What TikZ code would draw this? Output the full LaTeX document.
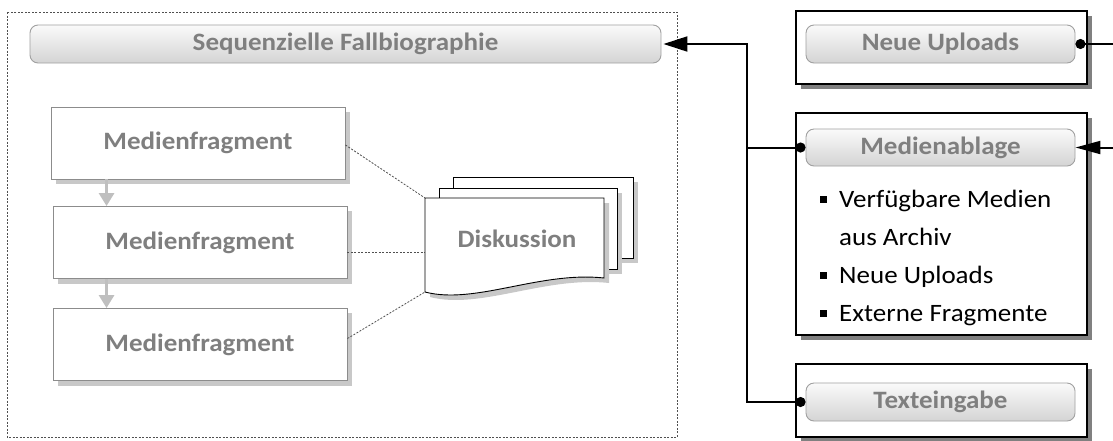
\documentclass[tikz,border=0pt]{standalone}
\usepackage{fontspec}
\setmainfont{Carlito}[FakeStretch=1.08]
\usetikzlibrary{arrows.meta,calc}
\definecolor{txtgray}{HTML}{7F7F7F}
\definecolor{pillborder}{HTML}{A0A0A0}
\definecolor{pilltop}{HTML}{FAFAFA}
\definecolor{pillbot}{HTML}{D4D4D4}
\definecolor{mfborder}{HTML}{8C8C8C}
\definecolor{mfshadow}{HTML}{C8C8C8}
\definecolor{outshadow}{HTML}{808080}
\definecolor{flowgray}{HTML}{BFBFBF}
\definecolor{dashcol}{HTML}{505050}
\tikzset{
  lbl/.style={font=\bfseries\fontsize{25}{30}\selectfont, text=txtgray},
  pill/.style={lbl, draw=pillborder, line width=0.9pt, rounded corners=8pt,
    top color=pilltop, bottom color=pillbot, inner sep=0pt},
  outerbox/.style={draw=black, line width=1.6pt, fill=white, inner sep=0pt},
  mfbox/.style={lbl, draw=mfborder, line width=0.9pt, fill=white, inner sep=0pt,
    minimum width=294pt, minimum height=72pt},
  conn/.style={line width=2pt, draw=black},
  dotstart/.style={{Circle[length=10pt]}-},
  flow/.style={draw=flowgray, line width=3pt, -{Triangle[length=13pt,width=15pt]}},
  dotline/.style={draw=dashcol, line width=0.8pt, dash pattern=on 2pt off 1.5pt},
  page/.style={draw=black, line width=0.9pt, fill=white},
  bullettxt/.style={font=\fontsize{25}{30}\selectfont, text=black, anchor=base west, inner sep=0pt},
}
\begin{document}
\begin{tikzpicture}[x=1pt,y=-1pt]
\useasboundingbox (0,0) rectangle (1113,440);
% outer dashed frame
\draw[dotline] (7,12) rectangle (677,437);
% title
\node[pill, minimum width=631pt, minimum height=38pt] (title) at (345.5,44) {Sequenzielle Fallbiographie};

% Medienfragment boxes with shadows
\fill[mfshadow] (56,112) rectangle (350,184);
\node[mfbox] (m1) at (198,143) {Medienfragment};
\fill[mfshadow] (58,211) rectangle (352,284);
\node[mfbox] (m2) at (200,242.5) {Medienfragment};
\fill[mfshadow] (58,313) rectangle (352,386);
\node[mfbox] (m3) at (200,344.5) {Medienfragment};
\draw[flow] ([xshift=56pt]m1.south west) -- ([xshift=54pt]m2.north west);
\draw[flow] ([xshift=54pt]m2.south west) -- ([xshift=54pt]m3.north west);

% Diskussion multi-document
\fill[mfshadow] (458,182) rectangle (638,263);
\draw[page] (453,177) rectangle (633,258);
\fill[mfshadow] (444,193) rectangle (622,274);
\draw[page] (439,188) rectangle (617,269);
\fill[mfshadow] (430,203) -- (609,203) -- (609,283) .. controls (545,276) and (480,310) .. (430,297) -- cycle;
\draw[page] (425,198) -- (604,198) -- (604,278) .. controls (540,271) and (475,305) .. (425,292) -- cycle;
\node[lbl, inner sep=0pt] (disk) at (517,239) {Diskussion};
\coordinate (dtl) at (425,198);
\coordinate (dml) at (425,252);
\coordinate (dbl) at (425,292);
\draw[dotline] ([yshift=-2pt]m1.east) -- (dtl);
\draw[dotline] ([yshift=-9.5pt]m2.east) -- (dml);
\draw[dotline] ([yshift=6pt]m3.east) -- (dbl);

% right boxes
\fill[outshadow] (801,16) rectangle (1092,89);
\node[outerbox, minimum width=291pt, minimum height=73pt] (nuo) at (941.5,47.5) {};
\node[pill, minimum width=269pt, minimum height=38pt] (nu) at (940.5,44) {Neue Uploads};

\fill[outshadow] (801,118) rectangle (1092,340);
\node[outerbox, minimum width=291pt, minimum height=222pt] (mao) at (941.5,224) {};
\node[pill, minimum width=269pt, minimum height=37pt] (ma) at (940.5,147.5) {Medienablage};
\node[bullettxt] (b1) at (839,207) {Verfügbare Medien};
\node[bullettxt] (b2) at (839,245) {aus Archiv};
\node[bullettxt] (b3) at (839,283) {Neue Uploads};
\node[bullettxt] (b4) at (839,321) {Externe Fragmente};
\fill[black] (820,196) rectangle (827,203);
\fill[black] (820,272) rectangle (827,279);
\fill[black] (820,310) rectangle (827,317);

\fill[outshadow] (801,369) rectangle (1092,442);
\node[outerbox, minimum width=291pt, minimum height=73pt] (teo) at (941.5,400.5) {};
\node[pill, minimum width=269pt, minimum height=38pt] (te) at (940.5,402) {Texteingabe};

% connectors
\coordinate (nuend) at (1113,44);
\coordinate (maend) at (1113,147.5);
\coordinate (junc) at (747,147.5);
\draw[conn, dotstart] (nu.east) -- (nuend);
\draw[conn, -{Triangle[length=25pt,width=13pt]}] (maend) -- (ma.east);
\draw[conn, {Circle[length=10pt]}-{Triangle[length=24pt,width=15pt]}] (ma.west) -- (junc) |- ([xshift=2pt]title.east);
\draw[conn, dotstart] (te.west) -| (junc);
\end{tikzpicture}
\end{document}
